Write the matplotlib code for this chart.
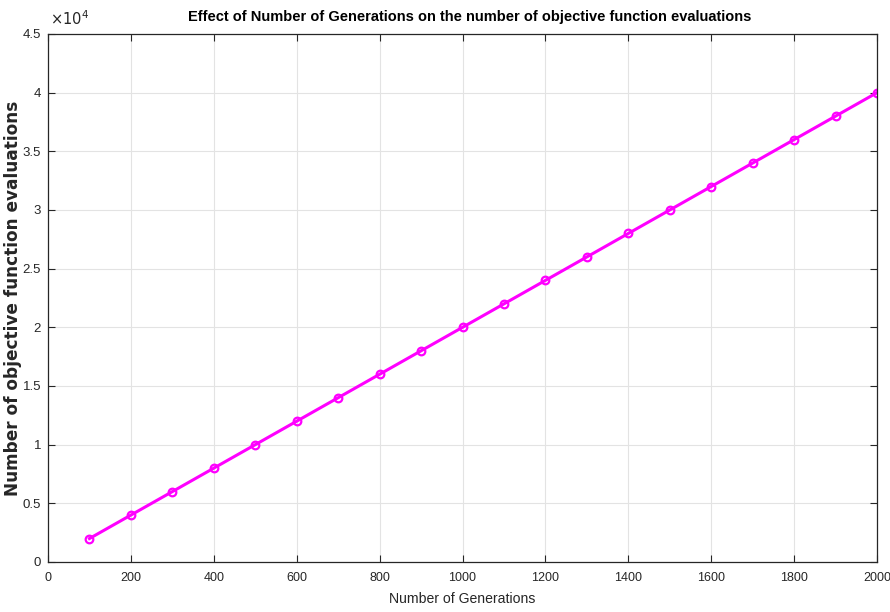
import matplotlib
matplotlib.use("Agg")
import matplotlib.pyplot as plt

generations = [100, 200, 300, 400, 500, 600, 700, 800, 900, 1000,
               1100, 1200, 1300, 1400, 1500, 1600, 1700, 1800, 1900, 2000]
evaluations = [2000, 4000, 6000, 8000, 10000, 12000, 14000, 16000, 18000, 20000,
               22000, 24000, 26000, 28000, 30000, 32000, 34000, 36000, 38000, 40000]
x_ticks = [0, 200, 400, 600, 800, 1000, 1200, 1400, 1600, 1800, 2000]
y_ticks = [0, 5000, 10000, 15000, 20000, 25000, 30000, 35000, 40000, 45000]
y_tick_labels = ["0", "0.5", "1", "1.5", "2", "2.5", "3", "3.5", "4", "4.5"]

FONT = "Liberation Sans"

fig = plt.figure(figsize=(8.9, 6.12), dpi=100)
ax = fig.add_axes([48/890, 1 - 562/612, (877-48)/890, (562-34)/612])

ax.plot(generations, evaluations, color="#ff00ff", linewidth=2.2, marker="o",
        markersize=5.5, markerfacecolor="none", markeredgewidth=1.6)

ax.set_xlim(0, 2000)
ax.set_ylim(0, 45000)
ax.set_xticks(x_ticks)
ax.set_xticklabels([str(v) for v in x_ticks], fontfamily=FONT, fontsize=9)
ax.set_yticks(y_ticks)
ax.set_yticklabels(y_tick_labels, fontfamily=FONT, fontsize=9.5)
ax.grid(True, color="#e3e3e3", linewidth=0.8)
ax.set_axisbelow(True)
ax.tick_params(direction="in", top=True, right=True, length=5, width=0.8,
               colors="#262626", pad=5)
ax.tick_params(axis="x", pad=7)
for s in ax.spines.values():
    s.set_color("#262626")
    s.set_linewidth(0.9)

fig.text(50/890, 1 - 25/612, r"$\times10^{4}$", fontsize=10.5,
         fontfamily=FONT, ha="left", va="baseline", color="#262626")

renderer = fig.canvas.get_renderer()

def fit(txt, target_px):
    txt.set_fontsize(10)
    bb = txt.get_window_extent(renderer=renderer)
    w = max(bb.width, bb.height)
    txt.set_fontsize(10 * target_px / w)

t = fig.text(470/890, 1 - 17/612, "Effect of Number of Generations on the number of objective function evaluations",
             fontfamily=FONT, fontweight="bold", ha="center", va="center", color="black")
fit(t, 564)
xl = fig.text(462/890, 1 - 599/612, "Number of Generations", fontfamily=FONT,
              ha="center", va="center", color="#262626")
fit(xl, 146)
yl = fig.text(13/890, 1 - 298/612, "Number of objective function evaluations", fontfamily="DejaVu Sans",
              fontweight="bold", rotation=90, ha="center", va="center", color="#262626")
fit(yl, 395)

fig.savefig("out.png", dpi=100)
